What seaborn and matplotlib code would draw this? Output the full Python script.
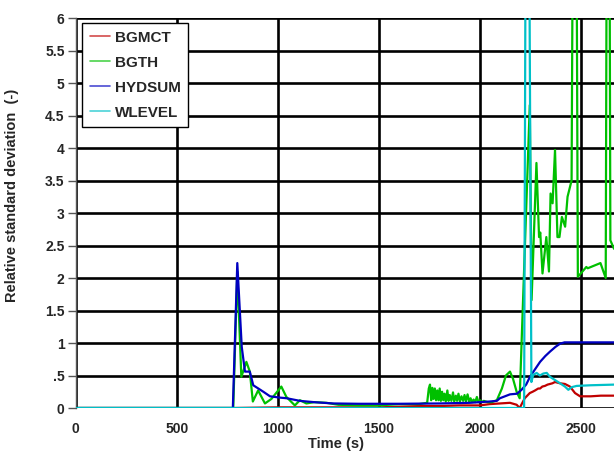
import numpy as np
import pandas as pd
import matplotlib
matplotlib.use("Agg")
import matplotlib.pyplot as plt
import seaborn as sns

# ---- data -----------------------------------------------------------------
series_names = ["BGMCT", "BGTH", "HYDSUM", "WLEVEL"]
series_colors = ["#c00000", "#00c000", "#0000c0", "#00c0c8"]

bgmct_t = [0, 780, 1000, 1500, 1600, 1700, 1800, 1900, 2000, 2050, 2100, 2150,
           2183, 2198, 2223, 2248, 2262, 2274, 2290, 2299, 2310, 2323, 2336,
           2348, 2360, 2373, 2398, 2422, 2447, 2472, 2497, 2550, 2600, 2665]
bgmct_v = [0.0, 0.0, 0.01, 0.01, 0.02, 0.03, 0.03, 0.04, 0.04, 0.06, 0.07, 0.08,
           0.05, 0.0, 0.15, 0.23, 0.25, 0.27, 0.30, 0.30, 0.33, 0.34, 0.36,
           0.37, 0.38, 0.40, 0.38, 0.37, 0.33, 0.23, 0.18, 0.18, 0.19, 0.19]

bgth_t = [0, 780, 800, 820, 845, 862, 877, 903, 937, 969, 1018, 1043, 1085, 1110,
          1142, 1180, 1241, 1300, 1400, 1500, 1600, 1700, 1740,
          1748, 1754, 1760, 1766, 1772, 1778, 1784, 1790, 1796, 1802, 1808, 1814,
          1820, 1826, 1832, 1840, 1846, 1852, 1860, 1868, 1874, 1882, 1888, 1895,
          1902, 1910, 1918, 1925, 1932, 1940, 1948, 1955, 1962, 1970, 1978, 1986,
          1994, 2002, 2010, 2020, 2040, 2060, 2085, 2110, 2130, 2150, 2165, 2183,
          2198, 2248, 2257, 2281, 2294, 2300, 2311, 2330, 2343, 2351, 2361, 2373,
          2385, 2395, 2407, 2423, 2435, 2455, 2468, 2474, 2486, 2495, 2528, 2535,
          2598, 2624, 2633, 2639, 2647, 2665]
bgth_v = [0.0, 0.0, 2.1, 0.48, 0.71, 0.56, 0.10, 0.27, 0.07, 0.14, 0.33, 0.17, 0.04, 0.12,
          0.07, 0.09, 0.08, 0.05, 0.04, 0.04, 0.06, 0.06, 0.08,
          0.30, 0.36, 0.12, 0.31, 0.14, 0.30, 0.12, 0.27, 0.12, 0.30, 0.11, 0.25,
          0.12, 0.22, 0.10, 0.27, 0.11, 0.20, 0.11, 0.24, 0.10, 0.19, 0.11, 0.22,
          0.10, 0.18, 0.11, 0.20, 0.10, 0.21, 0.10, 0.15, 0.09, 0.13, 0.09, 0.17,
          0.09, 0.12, 0.09, 0.11, 0.09, 0.09, 0.12, 0.30, 0.50, 0.56, 0.45, 0.25,
          0.15, 4.66, 1.66, 3.77, 2.63, 2.70, 2.07, 2.63, 2.10, 3.30, 3.15, 3.97,
          2.63, 2.63, 2.94, 2.79, 3.25, 3.50, 12.0, 12.0, 2.02, 2.05, 2.17, 2.15,
          2.23, 2.00, 12.0, 12.0, 2.58, 2.45]

hydsum_t = [0, 778, 800, 822, 838, 862, 879, 904, 929, 962, 1011, 1045, 1110, 1180,
            1275, 1400, 1600, 1800, 1950, 2050, 2085, 2100, 2150, 2185, 2207, 2230,
            2249, 2275, 2299, 2325, 2349, 2375, 2398, 2420, 2665]
hydsum_v = [0.0, 0.0, 2.23, 0.94, 0.56, 0.56, 0.35, 0.30, 0.25, 0.18, 0.16, 0.15, 0.11, 0.09,
            0.07, 0.065, 0.065, 0.07, 0.08, 0.10, 0.11, 0.15, 0.21, 0.22, 0.28, 0.36,
            0.48, 0.60, 0.71, 0.80, 0.87, 0.94, 0.99, 1.01, 1.01]

wlevel_t = [0, 2220, 2232, 2238, 2256, 2265, 2282, 2298, 2315, 2332, 2348, 2373,
            2398, 2422, 2439, 2455, 2480, 2550, 2665]
wlevel_v = [0.0, 0.0, 12.0, 12.0, 0.40, 0.51, 0.54, 0.50, 0.53, 0.54, 0.48, 0.43,
            0.38, 0.33, 0.28, 0.32, 0.34, 0.35, 0.36]

x_ticks = [0, 500, 1000, 1500, 2000, 2500]
y_ticks = [0, 0.5, 1, 1.5, 2, 2.5, 3, 3.5, 4, 4.5, 5, 5.5, 6]
y_tick_labels = ["0", ".5", "1", "1.5", "2", "2.5", "3", "3.5", "4", "4.5", "5", "5.5", "6"]

# ---- figure ---------------------------------------------------------------
sns.set_style("white")
plt.rcParams["font.family"] = ["Liberation Sans", "DejaVu Sans"]
plt.rcParams["font.weight"] = "bold"

fig = plt.figure(figsize=(6.14, 4.54), dpi=100)
ax = fig.add_axes([0.1233, 0.1013, 0.8767, 0.859])

frames = []
for name, t, v in [("BGMCT", bgmct_t, bgmct_v), ("BGTH", bgth_t, bgth_v),
                   ("HYDSUM", hydsum_t, hydsum_v), ("WLEVEL", wlevel_t, wlevel_v)]:
    frames.append(pd.DataFrame({"time": t, "rsd": v, "series": name}))
data = pd.concat(frames, ignore_index=True)

for name, color in zip(series_names, series_colors):
    sub = data[data["series"] == name]
    sns.lineplot(data=sub, x="time", y="rsd", ax=ax, color=color, linewidth=1.6,
                 estimator=None, sort=False, label=name, zorder=3)

ax.set_xlim(0, 2665)
ax.set_ylim(0, 6)
ax.set_xticks(x_ticks)
ax.set_xticklabels([str(v) for v in x_ticks])
ax.set_yticks(y_ticks)
ax.set_yticklabels(y_tick_labels)

ax.grid(True, color="black", linewidth=1.9)
ax.set_axisbelow(True)
for s in ["top", "right", "bottom"]:
    ax.spines[s].set_visible(False)
ax.spines["left"].set_color("#555555")
ax.spines["left"].set_linewidth(1.0)

ax.tick_params(axis="y", direction="out", length=6, width=1, color="#555555",
               pad=2, labelsize=10, left=True)
ax.tick_params(axis="x", length=0, pad=10, labelsize=10)
for lab in ax.get_xticklabels() + ax.get_yticklabels():
    lab.set_fontweight("bold")

ax.set_xlabel("Time (s)", fontsize=10.5, fontweight="bold")
ax.set_ylabel("Relative standard deviation  (-)", fontsize=10.5, fontweight="bold")
ax.xaxis.set_label_coords(0.4836, -0.075)
ax.yaxis.set_label_coords(-0.105, 0.546)

leg = ax.legend(loc="upper left", bbox_to_anchor=(0.0117, 0.987), fontsize=11,
                frameon=True, fancybox=False, framealpha=1, edgecolor="black",
                handlelength=1.3, handletextpad=0.35, labelspacing=0.72,
                borderpad=0.5, borderaxespad=0)
leg.get_frame().set_linewidth(1.0)
for line in leg.get_lines():
    line.set_linewidth(1.2)
    line.set_alpha(0.7)
for txt in leg.get_texts():
    txt.set_fontweight("bold")

fig.savefig("out.png", dpi=100)
